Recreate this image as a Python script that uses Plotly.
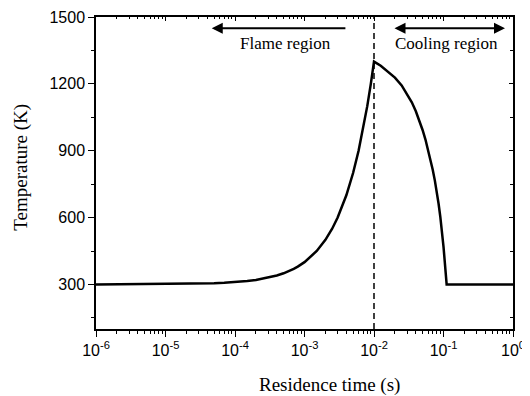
import plotly.graph_objects as go

# ---- data ----
residence_time_s = [1e-6, 1e-5, 2e-5, 3e-5, 5e-5, 7e-5, 1e-4, 1.5e-4, 2e-4, 3e-4, 4e-4,
                    5e-4, 6e-4, 7e-4, 8e-4, 9e-4,
                    1e-3, 1.5e-3, 2e-3, 2.5e-3, 3e-3, 4e-3, 5e-3, 6e-3, 7e-3, 8e-3, 9e-3, 1e-2,
                    0.0125, 0.015, 0.02, 0.025, 0.03, 0.035, 0.04, 0.045, 0.05, 0.055,
                    0.06, 0.065, 0.07, 0.075, 0.08, 0.085, 0.09, 0.095, 0.1,
                    0.111, 1.0]
temperature_K = [300, 301, 302, 303, 305, 307, 310, 315, 320, 330, 340,
                 350, 360, 370, 380, 390,
                 400, 450, 500, 550, 600, 700, 800, 900, 1000, 1100, 1200, 1300,
                 1281, 1262, 1228, 1193, 1155, 1117, 1077, 1036, 993, 950,
                 905, 861, 815, 767, 718, 662, 603, 540, 470,
                 300, 300]
boundary_time_s = [0.01, 0.01]
boundary_temp_K = [100, 1500]

x_tick_vals = [1e-6, 1e-5, 1e-4, 1e-3, 1e-2, 1e-1, 1e0]
x_tick_text = ["10<sup>-6</sup>", "10<sup>-5</sup>", "10<sup>-4</sup>", "10<sup>-3</sup>",
               "10<sup>-2</sup>", "10<sup>-1</sup>", "10<sup>0</sup>"]
y_tick_vals = [300, 600, 900, 1200, 1500]

SANS = "Arial, Liberation Sans, sans-serif"
SERIF = "Times New Roman, Liberation Serif, serif"

fig = go.Figure()
fig.add_trace(go.Scatter(x=boundary_time_s, y=boundary_temp_K, mode="lines",
                         line=dict(color="black", width=1.5, dash="6px,4px"),
                         showlegend=False, hoverinfo="skip"))
fig.add_trace(go.Scatter(x=residence_time_s, y=temperature_K, mode="lines",
                         line=dict(color="black", width=2.5),
                         showlegend=False))
# invisible trace so the mirrored (top/right) axes are drawn
fig.add_trace(go.Scatter(x=[1e-6], y=[100], xaxis="x2", yaxis="y2", mode="markers",
                         marker=dict(opacity=0), showlegend=False, hoverinfo="skip"))

# the page body has an 8px default margin, so the figure is 8px smaller
fig.update_layout(
    width=522, height=388,
    margin=dict(l=88, r=17, t=9, b=67),
    plot_bgcolor="white", paper_bgcolor="white",
    xaxis=dict(type="log", range=[-6, 0], tickvals=x_tick_vals, ticktext=x_tick_text,
               ticks="outside", ticklen=6, tickwidth=1.2, tickcolor="black",
               showline=True, linecolor="black", linewidth=1.5, showgrid=False,
               zeroline=False, automargin=False,
               tickfont=dict(family=SANS, size=16, color="black"),
               minor=dict(ticks="outside", ticklen=3.5, tickwidth=1, tickcolor="black",
                          dtick="D1", showgrid=False)),
    yaxis=dict(range=[100, 1500], tickvals=y_tick_vals,
               ticks="outside", ticklen=6, tickwidth=1.2, tickcolor="black",
               showline=True, linecolor="black", linewidth=1.5, showgrid=False,
               zeroline=False, automargin=False,
               tickfont=dict(family=SANS, size=16, color="black"),
               minor=dict(ticks="outside", ticklen=3.5, tickwidth=1, tickcolor="black",
                          dtick=150, tick0=0, showgrid=False)),
    xaxis2=dict(type="log", range=[-6, 0], overlaying="x", side="top", anchor="y",
                tickvals=x_tick_vals, ticks="inside", ticklen=4, tickcolor="black",
                showticklabels=False, showline=True, linecolor="black", linewidth=1.5,
                showgrid=False, zeroline=False, automargin=False,
                minor=dict(ticks="inside", ticklen=2.5, tickcolor="black", dtick="D1",
                           showgrid=False)),
    yaxis2=dict(range=[100, 1500], overlaying="y", side="right", anchor="x",
                tickvals=y_tick_vals, ticks="inside", ticklen=4, tickcolor="black",
                showticklabels=False, showline=True, linecolor="black", linewidth=1.5,
                showgrid=False, zeroline=False, automargin=False,
                minor=dict(ticks="inside", ticklen=3, tickcolor="black", dtick=150,
                           tick0=0, showgrid=False)),
    annotations=[
        dict(text="Residence time (s)", xref="paper", yref="paper", x=0.561, y=-0.18,
             xanchor="center", yanchor="middle", showarrow=False,
             font=dict(family=SERIF, size=19, color="black")),
        dict(text="Temperature (K)", xref="paper", yref="paper", x=-0.18, y=0.52,
             xanchor="center", yanchor="middle", showarrow=False, textangle=-90,
             font=dict(family=SERIF, size=19, color="black")),
        dict(text="Flame region", xref="x", yref="y", x=-3.28, y=1383,
             xanchor="center", yanchor="middle", showarrow=False,
             font=dict(family=SERIF, size=17, color="black")),
        dict(text="Cooling region", xref="x", yref="y", x=-0.95, y=1383,
             xanchor="center", yanchor="middle", showarrow=False,
             font=dict(family=SERIF, size=17, color="black")),
        dict(text="", xref="x", yref="y", x=-4.335, y=1449, axref="x", ayref="y",
             ax=-2.39, ay=1449, showarrow=True, arrowhead=2, arrowsize=1.1,
             arrowwidth=2, arrowcolor="black"),
        dict(text="", xref="x", yref="y", x=-0.115, y=1449, axref="x", ayref="y",
             ax=-1.727, ay=1449, showarrow=True, arrowhead=2, startarrowhead=2,
             arrowside="end+start", arrowsize=1.1, startarrowsize=1.1,
             arrowwidth=2, arrowcolor="black"),
    ],
)

fig.write_html("out.html")
